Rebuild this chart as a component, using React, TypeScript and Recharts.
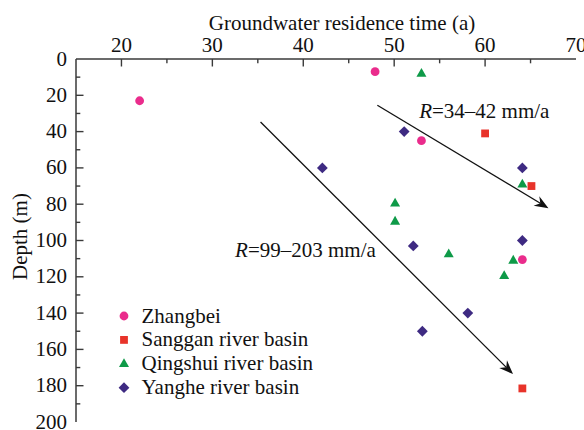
import React from 'react';
import {
  ScatterChart,
  Scatter,
  XAxis,
  YAxis,
  ReferenceLine,
  ReferenceDot,
  Legend,
} from 'recharts';

// ---------- data ----------
const zhangbei = [
  { t: 22, d: 23 },
  { t: 47.9, d: 7 },
  { t: 53, d: 45 },
  { t: 64.1, d: 110.5 },
];
const sanggan = [
  { t: 60, d: 41 },
  { t: 65.1, d: 70 },
  { t: 64.1, d: 181.5 },
];
const qingshui = [
  { t: 53, d: 8 },
  { t: 64.1, d: 69 },
  { t: 50.1, d: 79.5 },
  { t: 50.1, d: 89.5 },
  { t: 56, d: 107.5 },
  { t: 63.1, d: 111 },
  { t: 62.1, d: 119.5 },
];
const yanghe = [
  { t: 51.1, d: 40 },
  { t: 42.1, d: 60 },
  { t: 64.1, d: 60 },
  { t: 52.1, d: 103 },
  { t: 64.1, d: 100 },
  { t: 58.1, d: 140 },
  { t: 53.1, d: 150 },
];

const seriesNames = ['Zhangbei', 'Sanggan river basin', 'Qingshui river basin', 'Yanghe river basin'];
const seriesColors = ['#EA2C8C', '#E8332A', '#0E9A48', '#3E2A82'];
const seriesShapes = ['circle', 'square', 'triangle', 'diamond'];

const xTicks = [15, 20, 25, 30, 35, 40, 45, 50, 55, 60, 65, 70];
const yTicks = [0, 10, 20, 30, 40, 50, 60, 70, 80, 90, 100, 110, 120, 130, 140, 150, 160, 170, 180, 190, 200];

const arrowSlow = [{ t: 48.15, d: 25.5 }, { t: 66.97, d: 82.2 }];
const arrowFast = [{ t: 35.3, d: 34.7 }, { t: 63.07, d: 173.6 }];
const annotations = [
  { t: 52.75, d: 32.6, rest: '=34–42 mm/a' },
  { t: 32.5, d: 109.1, rest: '=99–203 mm/a' },
];

const xTitle = 'Groundwater residence time (a)';
const yTitle = 'Depth (m)';

// ---------- styles ----------
const FONT = "'Liberation Serif'";
const FS = 21;
const AXIS = '#3a3a3a';
const textStyle: React.CSSProperties = { fontFamily: FONT, fontSize: FS, fill: '#111' };

function Marker({ kind, cx, cy, color }: { kind: string; cx: number; cy: number; color: string }) {
  if (kind === 'circle') return <circle cx={cx} cy={cy} r={4.4} fill={color} />;
  if (kind === 'square') return <rect x={cx - 3.9} y={cy - 3.9} width={7.8} height={7.8} fill={color} />;
  if (kind === 'triangle')
    return (
      <polygon
        points={`${cx},${cy - 5.6} ${cx + 5},${cy + 3.2} ${cx - 5},${cy + 3.2}`}
        fill={color}
      />
    );
  return (
    <polygon
      points={`${cx},${cy - 5.4} ${cx + 5.4},${cy} ${cx},${cy + 5.4} ${cx - 5.4},${cy}`}
      fill={color}
    />
  );
}

const makeShape = (i: number) => (p: any) => (
  <Marker kind={seriesShapes[i]} cx={p.cx} cy={p.cy} color={seriesColors[i]} />
);

const X_MARGIN = 7;
const Y_MARGIN = 9;

function XTick(p: any) {
  const v = p.payload.value;
  const axisY = p.y + X_MARGIN;
  const major = v % 10 === 0;
  return (
    <g>
      {v !== 15 && v !== 70 && (
        <line x1={p.x} x2={p.x} y1={axisY} y2={axisY + (major ? 7.5 : 4.3)} stroke={AXIS} strokeWidth={1.4} />
      )}
      {major && (
        <text x={p.x} y={p.y} textAnchor="middle" style={textStyle}>
          {v}
        </text>
      )}
    </g>
  );
}

function YTick(p: any) {
  const v = p.payload.value;
  const axisX = p.x + Y_MARGIN;
  const major = v % 20 === 0;
  return (
    <g>
      {v !== 0 && v !== 200 && (
        <line x1={axisX} x2={axisX + (major ? 7.5 : 4.3)} y1={p.y} y2={p.y} stroke={AXIS} strokeWidth={1.4} />
      )}
      {major && (
        <text x={p.x} y={p.y + 6.5} textAnchor="end" style={textStyle}>
          {v}
        </text>
      )}
    </g>
  );
}

function ArrowShape(p: any) {
  const { x1, y1, x2, y2 } = p;
  const dx = x2 - x1;
  const dy = y2 - y1;
  const len = Math.sqrt(dx * dx + dy * dy) || 1;
  const ux = dx / len;
  const uy = dy / len;
  const nx = -uy;
  const ny = ux;
  const L = 14;
  const W = 5.5;
  const notch = 9.5;
  const bx = x2 - L * ux;
  const by = y2 - L * uy;
  const mx = x2 - notch * ux;
  const my = y2 - notch * uy;
  return (
    <g>
      <line x1={x1} y1={y1} x2={mx} y2={my} stroke="#111" strokeWidth={1.3} />
      <polygon
        points={`${x2},${y2} ${bx + W * nx},${by + W * ny} ${mx},${my} ${bx - W * nx},${by - W * ny}`}
        fill="#111"
      />
    </g>
  );
}

const makeAnnotation = (rest: string) => (p: any) => (
  <text x={p.cx} y={p.cy} style={textStyle}>
    <tspan fontStyle="italic">R</tspan>
    {rest}
  </text>
);

function LegendContent() {
  return (
    <svg width={230} height={100} style={{ display: 'block', overflow: 'visible' }}>
      {seriesNames.map((name, i) => {
        const cy = 14 + i * 23.9;
        return (
          <g key={name}>
            <Marker kind={seriesShapes[i]} cx={14} cy={cy} color={seriesColors[i]} />
            <text x={31.5} y={cy + 6.5} style={textStyle}>
              {name}
            </text>
          </g>
        );
      })}
    </svg>
  );
}

const seriesData = [zhangbei, sanggan, qingshui, yanghe];

export default function App() {
  return (
    <div style={{ position: 'absolute', left: 0, top: 0, background: '#fff', fontFamily: FONT }}>
      <ScatterChart width={584} height={430} margin={{ top: 0, right: 8, bottom: 8, left: 0 }}>
        <XAxis
          xAxisId={0}
          dataKey="t"
          type="number"
          orientation="top"
          domain={[15, 70]}
          ticks={xTicks}
          interval={0}
          height={59}
          tickSize={0}
          tickMargin={X_MARGIN}
          tickLine={false}
          tick={XTick}
          axisLine={{ stroke: AXIS, strokeWidth: 1.5 }}
          allowDataOverflow
          label={{
            content: (lp: any) => {
              const vb = lp.viewBox || { x: 76, y: 0, width: 500, height: 59 };
              return (
                <text
                  x={vb.x + vb.width / 2 + 16}
                  y={vb.y + 29.5}
                  textAnchor="middle"
                  style={textStyle}
                >
                  {xTitle}
                </text>
              );
            },
          }}
        />
        <XAxis
          xAxisId="b"
          dataKey="t"
          type="number"
          orientation="bottom"
          domain={[15, 70]}
          height={0}
          tick={false}
          tickLine={false}
          axisLine={{ stroke: AXIS, strokeWidth: 1.5 }}
        />
        <YAxis
          yAxisId={0}
          dataKey="d"
          type="number"
          domain={[0, 200]}
          reversed
          ticks={yTicks}
          interval={0}
          width={76}
          tickSize={0}
          tickMargin={Y_MARGIN}
          tickLine={false}
          tick={YTick}
          axisLine={{ stroke: AXIS, strokeWidth: 1.5 }}
          allowDataOverflow
          label={{
            content: (lp: any) => {
              const vb = lp.viewBox || { x: 0, y: 59, width: 76, height: 363 };
              const cx = vb.x + 26.5;
              const cy = vb.y + vb.height / 2 - 4;
              return (
                <text
                  x={cx}
                  y={cy}
                  transform={`rotate(-90, ${cx}, ${cy})`}
                  textAnchor="middle"
                  style={textStyle}
                >
                  {yTitle}
                </text>
              );
            },
          }}
        />
        <YAxis
          yAxisId="r"
          dataKey="d"
          type="number"
          orientation="right"
          domain={[0, 200]}
          reversed
          width={0}
          tick={false}
          tickLine={false}
          axisLine={{ stroke: AXIS, strokeWidth: 1.5 }}
        />
        <Legend
          layout="vertical"
          align="center"
          verticalAlign="middle"
          content={LegendContent}
          wrapperStyle={{ left: 110, top: 302, width: 230, height: 100 }}
        />
        <ReferenceLine
          segment={[{ x: arrowSlow[0].t, y: arrowSlow[0].d }, { x: arrowSlow[1].t, y: arrowSlow[1].d }]}
          shape={ArrowShape}
          ifOverflow="visible"
        />
        <ReferenceLine
          segment={[{ x: arrowFast[0].t, y: arrowFast[0].d }, { x: arrowFast[1].t, y: arrowFast[1].d }]}
          shape={ArrowShape}
          ifOverflow="visible"
        />
        {annotations.map((a) => (
          <ReferenceDot
            key={a.rest}
            x={a.t}
            y={a.d}
            r={0}
            ifOverflow="visible"
            shape={makeAnnotation(a.rest)}
          />
        ))}
        {seriesData.map((data, i) => (
          <Scatter
            key={seriesNames[i]}
            name={seriesNames[i]}
            data={data}
            fill={seriesColors[i]}
            shape={makeShape(i)}
            isAnimationActive={false}
          />
        ))}
      </ScatterChart>
    </div>
  );
}
